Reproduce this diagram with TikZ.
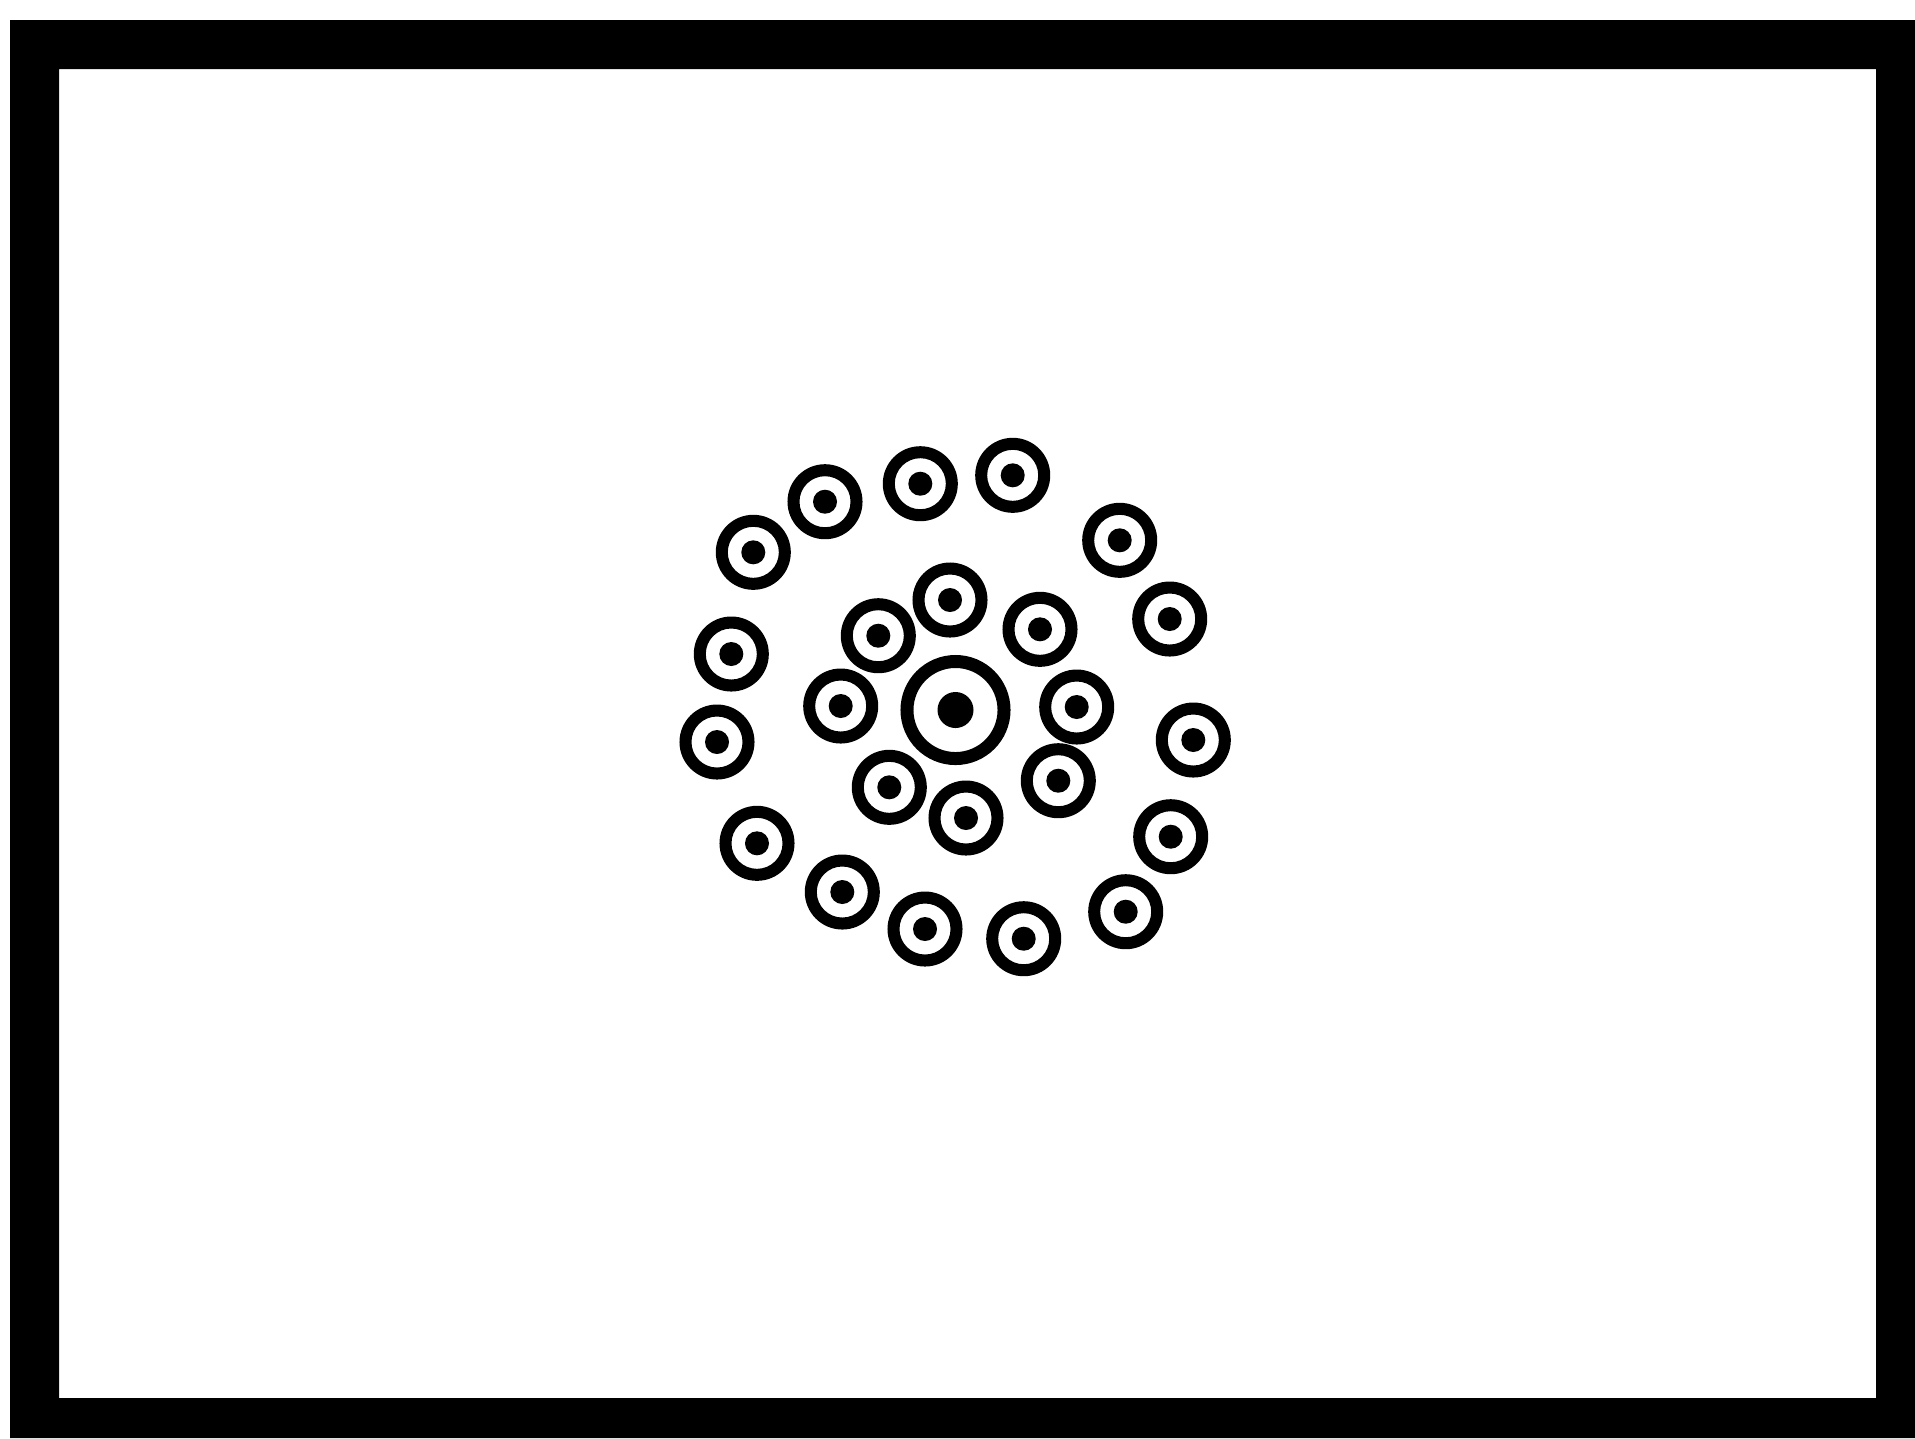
\documentclass[tikz,border=0pt]{standalone}
\begin{document}
\begin{tikzpicture}[x=0.01cm,y=-0.01cm]
\useasboundingbox (0,0) rectangle (1915,1438);
% thick frame
\fill[black,even odd rule] (10,20) rectangle (1915,1438) (59,69) rectangle (1876,1398);
% central large cell
\coordinate (c0) at (955.5,710);
\fill[black,even odd rule] (c0) circle (0.55cm) (c0) circle (0.42cm);
\fill[black] (c0) circle (0.18cm);
% small cells
\foreach \n/\x/\y in {
  o1/753.3/552.3, o2/825/501.7, o3/920.3/483.7, o4/1012.7/475.3, o5/1119.7/540.3,
  o6/1169.7/619, o7/1193.3/740, o8/1170.7/836.7, o9/1125.7/911.7, o10/1023.7/938.7,
  o11/925/929, o12/842.3/892, o13/757/843.3, o14/717/742, o15/731.3/654,
  i1/950/600, i2/878.3/635.7, i3/1040/629.3, i4/840.7/706, i5/1076.7/707,
  i6/889.3/787.3, i7/1058.3/780.7, i8/966/818}
{
  \coordinate (\n) at (\x,\y);
  \fill[black,even odd rule] (\n) circle (0.375cm) (\n) circle (0.255cm);
  \fill[black] (\n) circle (0.12cm);
}
\end{tikzpicture}
\end{document}
